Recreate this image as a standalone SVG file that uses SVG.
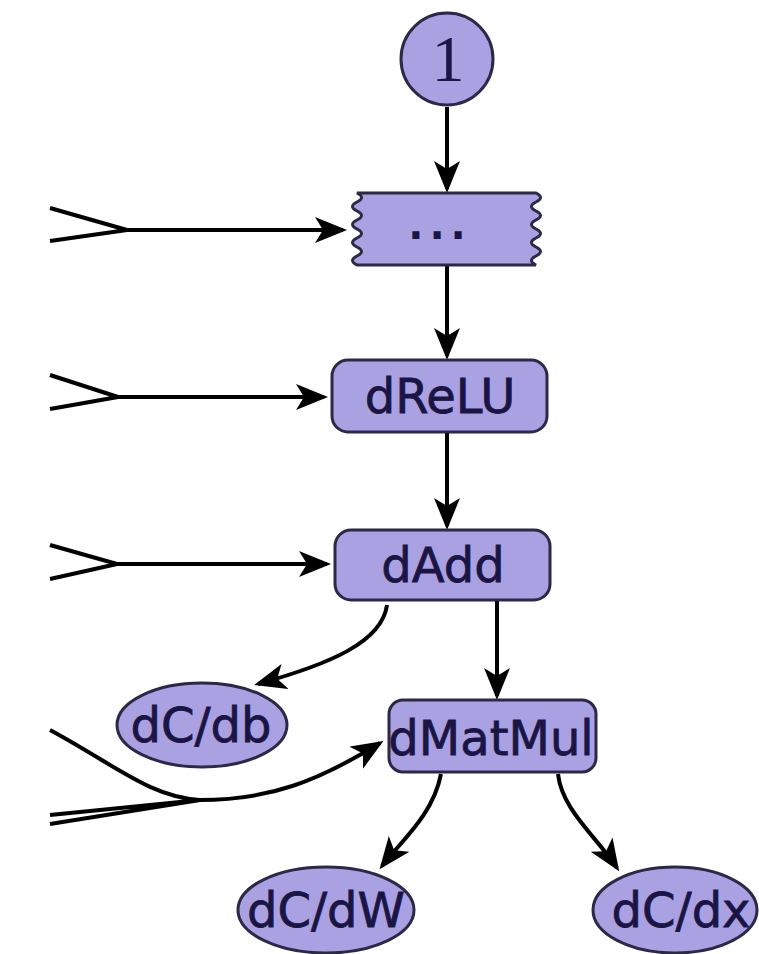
<svg xmlns="http://www.w3.org/2000/svg" width="759" height="954" viewBox="0 0 759 954">
<defs>
<style>
.node{fill:#a9a1e2;stroke:#2c2846;stroke-width:3}
.lbl{font-family:"DejaVu Sans",sans-serif;font-size:48px;fill:#1b1545;stroke:#1b1545;stroke-width:0.8;text-anchor:middle}
.edge{fill:none;stroke:#000;stroke-width:4}
.arr{marker-end:url(#ah)}
</style>
<marker id="ah" markerUnits="userSpaceOnUse" markerWidth="36" markerHeight="30" refX="28" refY="13" orient="auto">
<path d="M0,0 L32,13 L0,26 L8,13 z" fill="#000"/>
</marker>
</defs>
<rect width="759" height="954" fill="#fff"/>
<g id="connectors">
<path class="edge arr" d="M447,107 L447,189"/>
<path class="edge arr" d="M447,266 L447,356"/>
<path class="edge arr" d="M447,433 L447,526"/>
<path class="edge arr" d="M497,601 L497,696"/>
<path class="edge" d="M50,208 L127,230 M50,241 L127,230"/>
<path class="edge arr" d="M125,230 L343,230"/>
<path class="edge" d="M50,375 L118,397 M50,409 L118,397"/>
<path class="edge arr" d="M116,397 L324,397"/>
<path class="edge" d="M50,545 L117,564 M50,579 L117,564"/>
<path class="edge arr" d="M115,564 L327,564"/>
<path class="edge arr" d="M387,605 C382,642 330,664 258,684"/>
<path class="edge" d="M50,730 C115,765 150,797 200,800 M50,815 L200,800 M50,824 L200,800"/>
<path class="edge arr" d="M195,800 C270,801 320,780 380,743"/>
<path class="edge arr" d="M441,774 C433,815 402,840 382,866"/>
<path class="edge arr" d="M558,774 C562,810 596,836 617,868"/>
</g>
<g id="n-one">
<circle class="node" cx="447" cy="59" r="46"/>
<text x="448" y="81" font-family="'Liberation Serif',serif" font-size="66" fill="#1b1545" text-anchor="middle">1</text>
</g>
<g id="n-dots">
<path class="node" d="M357,193 L536,193 q9,4.5 0,9 q-9,4.5 0,9 q9,4.5 0,9 q-9,4.5 0,9 q9,4.5 0,9 q-9,4.5 0,9 q9,4.5 0,9 q-9,4.5 0,9 L357,265 q-9,-4.5 0,-9 q9,-4.5 0,-9 q-9,-4.5 0,-9 q9,-4.5 0,-9 q-9,-4.5 0,-9 q9,-4.5 0,-9 q-9,-4.5 0,-9 q9,-4.5 0,-9 z"/>
<text x="440" y="239" font-family="'DejaVu Sans',sans-serif" font-size="40" font-weight="bold" letter-spacing="6" fill="#1b1545" text-anchor="middle">...</text>
</g>
<g id="n-drelu">
<rect class="node" x="332" y="360" width="215" height="72" rx="16"/>
<text class="lbl" x="440" y="413">dReLU</text>
</g>
<g id="n-dadd">
<rect class="node" x="335" y="530" width="215" height="70" rx="16"/>
<text class="lbl" x="443" y="582">dAdd</text>
</g>
<g id="n-dcdb">
<ellipse class="node" cx="202" cy="725" rx="85" ry="42"/>
<text class="lbl" x="201" y="742">dC/db</text>
</g>
<g id="n-dmatmul">
<rect class="node" x="389" y="700" width="207" height="72" rx="14"/>
<text class="lbl" x="491" y="755">dMatMul</text>
</g>
<g id="n-dcdw">
<ellipse class="node" cx="326" cy="910" rx="88" ry="43"/>
<text class="lbl" x="326" y="927">dC/dW</text>
</g>
<g id="n-dcdx">
<ellipse class="node" cx="675" cy="910" rx="82" ry="43"/>
<text class="lbl" x="681" y="927">dC/dx</text>
</g>
</svg>
